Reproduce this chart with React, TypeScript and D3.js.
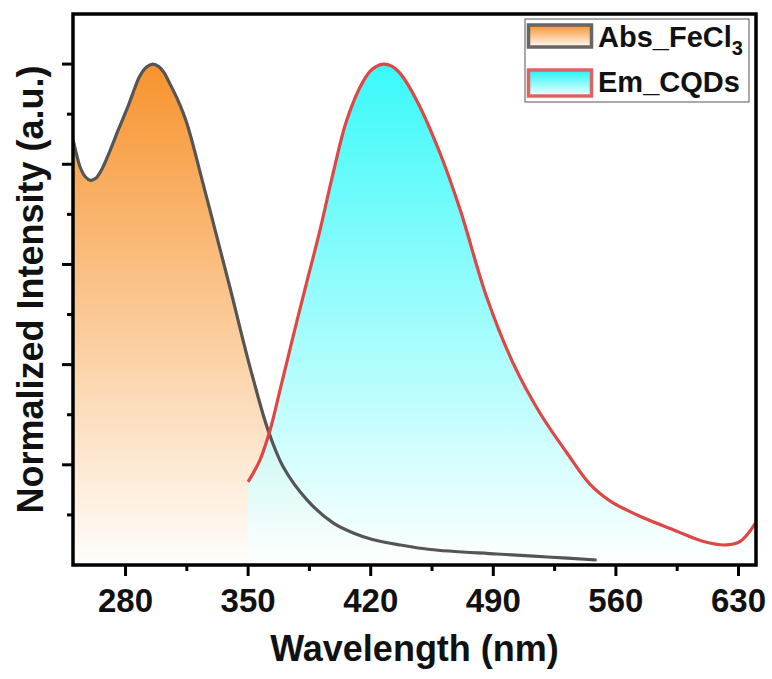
import React from "react";
import * as d3 from "d3";

const absWavelength = [250, 252, 254, 257, 260, 263, 266, 271, 276, 281, 284, 288, 292, 295.5, 299, 302, 305, 310, 315, 324, 334, 341, 347, 353, 361.4, 370, 383.6, 398.5, 410, 421, 437, 454, 492, 521, 549];
const absIntensity = [0.85, 0.82, 0.795, 0.775, 0.768, 0.772, 0.787, 0.826, 0.87, 0.912, 0.94, 0.975, 0.994, 1.0, 0.995, 0.983, 0.963, 0.927, 0.882, 0.765, 0.63, 0.535, 0.45, 0.37, 0.269, 0.196, 0.13, 0.084, 0.064, 0.051, 0.04, 0.031, 0.022, 0.016, 0.01];

const emWavelength = [350, 356.8, 362.5, 368.2, 375.6, 383, 391, 398.5, 406.3, 415.6, 421, 427, 432, 436.7, 446.2, 459.6, 471, 486.2, 501.3, 516.7, 532, 545, 557, 566, 574, 593, 610, 623, 631, 640];
const emIntensity = [0.166, 0.21, 0.269, 0.349, 0.455, 0.558, 0.668, 0.782, 0.888, 0.965, 0.99, 1.0, 0.996, 0.982, 0.928, 0.822, 0.71, 0.535, 0.403, 0.303, 0.224, 0.162, 0.127, 0.11, 0.097, 0.07, 0.047, 0.04, 0.047, 0.085];

const xMajorTicks = [280, 350, 420, 490, 560, 630];
const xMinorTicks = [315, 385, 455, 525, 595];
const yMajorTicks = [0.2, 0.4, 0.6, 0.8, 1.0];
const yMinorTicks = [0.1, 0.3, 0.5, 0.7, 0.9];

const seriesNames = ["Abs_FeCl", "Em_CQDs"];

const W = 772;
const H = 679;
const L = 73, R = 756, T = 14, B = 565;
const FONT = "Arial, 'Liberation Sans', sans-serif";

export default function App() {
  const x = d3.scaleLinear().domain([250, 640]).range([L, R]);
  const y = d3.scaleLinear().domain([0, 1.1]).range([B, T]);

  const absData = absWavelength.map((w, i) => [w, absIntensity[i]] as [number, number]);
  const emData = emWavelength.map((w, i) => [w, emIntensity[i]] as [number, number]);

  const curve = d3.curveCatmullRom.alpha(0.5);
  const area = d3
    .area<[number, number]>()
    .x((d) => x(d[0]))
    .y0(y(0))
    .y1((d) => y(d[1]))
    .curve(curve);
  const line = d3
    .line<[number, number]>()
    .x((d) => x(d[0]))
    .y((d) => y(d[1]))
    .curve(curve);

  return (
    <svg
      width={W}
      height={H}
      style={{ position: "absolute", left: 0, top: 0, background: "#fff" }}
      fontFamily={FONT}
    >
      <defs>
        <linearGradient id="gAbs" gradientUnits="userSpaceOnUse" x1={0} y1={y(1)} x2={0} y2={y(0)}>
          <stop offset="0" stopColor="#f7932d" />
          <stop offset="1" stopColor="#fffefd" />
        </linearGradient>
        <linearGradient id="gEm" gradientUnits="userSpaceOnUse" x1={0} y1={y(1)} x2={0} y2={y(0)}>
          <stop offset="0" stopColor="#0ff8f8" />
          <stop offset="1" stopColor="#ffffff" />
        </linearGradient>
        <linearGradient id="gAbsL" x1="0" y1="0" x2="0" y2="1">
          <stop offset="0" stopColor="#f7932d" />
          <stop offset="1" stopColor="#fffaf5" />
        </linearGradient>
        <linearGradient id="gEmL" x1="0" y1="0" x2="0" y2="1">
          <stop offset="0" stopColor="#20f4f8" />
          <stop offset="1" stopColor="#f5ffff" />
        </linearGradient>
        <clipPath id="plotClip">
          <rect x={L} y={T} width={R - L} height={B - T} />
        </clipPath>
      </defs>

      <g clipPath="url(#plotClip)">
        <path d={area(absData) || ""} fill="url(#gAbs)" />
        <path d={area(emData) || ""} fill="url(#gEm)" fillOpacity={0.82} />
        <path d={line(absData) || ""} fill="none" stroke="#555555" strokeWidth={3.2} strokeLinejoin="round" />
        <path d={line(emData) || ""} fill="none" stroke="#e04646" strokeWidth={3.2} strokeLinejoin="round" />
      </g>

      {/* frame */}
      <rect x={L} y={T} width={R - L} height={B - T} fill="none" stroke="#000" strokeWidth={3.5} />

      {/* x ticks */}
      {xMajorTicks.map((t) => (
        <g key={"xM" + t}>
          <line x1={x(t)} x2={x(t)} y1={B} y2={B + 11} stroke="#000" strokeWidth={3} />
          <text x={x(t)} y={612} textAnchor="middle" fontSize={33} fontWeight="bold" fill="#111">
            {t}
          </text>
        </g>
      ))}
      {xMinorTicks.map((t) => (
        <line key={"xm" + t} x1={x(t)} x2={x(t)} y1={B} y2={B + 6} stroke="#000" strokeWidth={3} />
      ))}

      {/* y ticks */}
      {yMajorTicks.map((t) => (
        <line key={"yM" + t} x1={L} x2={L - 11} y1={y(t)} y2={y(t)} stroke="#000" strokeWidth={3} />
      ))}
      {yMinorTicks.map((t) => (
        <line key={"ym" + t} x1={L} x2={L - 6} y1={y(t)} y2={y(t)} stroke="#000" strokeWidth={3} />
      ))}

      {/* axis titles */}
      <text x={(L + R) / 2} y={661} textAnchor="middle" fontSize={36} fontWeight="bold" fill="#111">
        Wavelength (nm)
      </text>
      <text
        transform={`translate(${43},${(T + B) / 2}) rotate(-90)`}
        textAnchor="middle"
        fontSize={36}
        fontWeight="bold"
        fill="#111"
      >
        Normalized Intensity (a.u.)
      </text>

      {/* legend */}
      <rect x={525} y={19} width={224} height={83} fill="#fff" stroke="#555" strokeWidth={1} />
      <rect x={528.5} y={25} width={63} height={22} fill="url(#gAbsL)" stroke="#666" strokeWidth={3.5} />
      <rect x={528.5} y={70} width={63} height={26} fill="url(#gEmL)" stroke="#e06262" strokeWidth={3.5} />
      <text x={598} y={47} fontSize={29} fontWeight="bold" fill="#111">
        {seriesNames[0]}
        <tspan fontSize={20} dy={8}>3</tspan>
      </text>
      <text x={598} y={92} fontSize={29} fontWeight="bold" fill="#111">
        {seriesNames[1]}
      </text>
    </svg>
  );
}
